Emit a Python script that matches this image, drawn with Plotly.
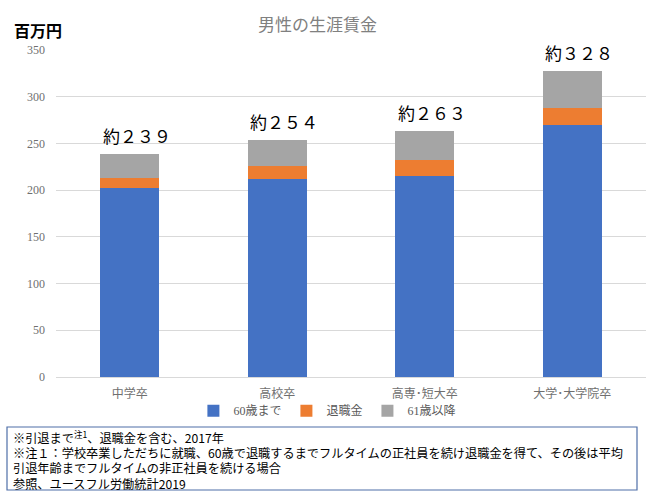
import plotly.graph_objects as go

categories = ["中学卒", "高校卒", "高専･短大卒", "大学･大学院卒"]
until60 = [202, 212, 215, 270]
retirement = [11, 14, 17, 18]
after61 = [26, 28, 31, 40]
totals = [239, 254, 263, 328]
total_labels = ["約２３９", "約２５４", "約２６３", "約３２８"]
series_names = ["60歳まで", "退職金", "61歳以降"]
y_ticks = [0, 50, 100, 150, 200, 250, 300, 350]

colors = ["#4472C4", "#ED7D31", "#A5A5A5"]
sans = "Noto Sans CJK JP, Liberation Sans, sans-serif"
serif_mix = "Liberation Serif, Noto Sans CJK JP, serif"

fig = go.Figure()
for name, vals, col in zip(series_names, [until60, retirement, after61], colors):
    fig.add_trace(go.Bar(x=categories, y=vals, name=name, marker_color=col,
                         marker_line_width=0))

for c, t, lab in zip(categories, totals, total_labels):
    fig.add_annotation(x=c, y=t, text=lab, showarrow=False, yanchor="bottom",
                       xshift=7, yshift=4,
                       font=dict(family=sans, size=17, color="#000000"))

fig.add_annotation(xref="paper", yref="paper", x=0.443, y=1.08, xanchor="center",
                   yanchor="middle", text="男性の生涯賃金", showarrow=False,
                   font=dict(family=sans, size=17, color="#808080"))
fig.add_annotation(xref="paper", yref="paper", x=-0.075, y=1.062, xanchor="left",
                   yanchor="middle", text="<b>百万円</b>", showarrow=False,
                   font=dict(family=sans, size=16, color="#000000"))

note_lines = [
    "※引退まで<sup>注1</sup>、退職金を含む、2017年",
    "※注１：学校卒業しただちに就職、60歳で退職するまでフルタイムの正社員を続け退職金を得て、その後は平均",
    "引退年齢までフルタイムの非正社員を続ける場合",
    "参照、ユースフル労働統計2019",
]
fig.add_shape(type="rect", xref="paper", yref="paper",
              x0=(7 - 56) / 590, x1=(637 - 56) / 590,
              y0=(377 - 490) / 327, y1=(377 - 427) / 327,
              line=dict(color="#4F6FA8", width=1.2), fillcolor="white")
for i, line in enumerate(note_lines):
    ypx = 437 + i * 15.6
    fig.add_annotation(xref="paper", yref="paper", x=(11 - 56) / 590,
                       y=(377 - ypx) / 327, xanchor="left", yanchor="middle",
                       align="left", showarrow=False, text=line,
                       font=dict(family=sans, size=12.2, color="#000000"))

fig.update_layout(
    width=646, height=494,
    margin=dict(l=56, r=0, t=50, b=117),
    barmode="stack", bargap=0.6,
    plot_bgcolor="white", paper_bgcolor="white",
    showlegend=True,
    legend=dict(orientation="h", x=0.46, xanchor="center", y=-0.103, yanchor="middle",
                bgcolor="rgba(0,0,0,0)",
                font=dict(family=serif_mix, size=12, color="#595959"),
                itemwidth=30, tracegroupgap=0, traceorder="normal"),
    xaxis=dict(showgrid=False, showline=True, linecolor="#D9D9D9", linewidth=1,
               tickfont=dict(family=sans, size=12, color="#6f6f6f"), ticks="",
               ticklabelstandoff=6),
    yaxis=dict(range=[0, 350], tickvals=y_ticks, showgrid=True, gridcolor="#D9D9D9",
               gridwidth=1, zeroline=False, ticks="", ticklabelstandoff=10,
               tickfont=dict(family=serif_mix, size=12, color="#6f6f6f")),
)

fig.write_html("out.html", config={"displayModeBar": False},
               post_script="document.body.style.margin='0';")
